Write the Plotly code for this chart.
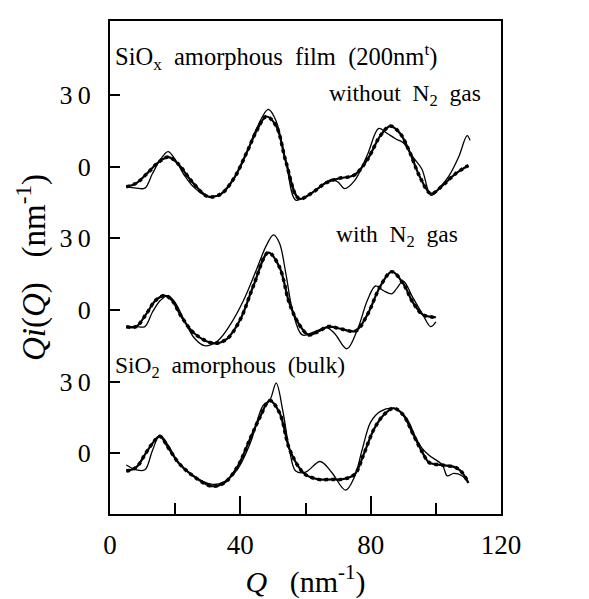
import plotly.graph_objects as go

# ---- data (raw values, each panel is offset vertically) ----
top_dot_q = [5, 8, 12, 15, 18, 21, 25, 30, 34, 38, 42, 45, 48, 51, 54, 58, 62, 66, 70, 75, 79, 83, 86, 89, 92, 95, 98.5, 102, 106, 110]
top_dot_v = [-8.4, -7, -2, 2, 4, 1, -6, -12.5, -11.5, -5, 6, 15, 21, 17, 2, -13.4, -11, -7, -5, -3.5, 3, 13, 17, 14, 6, -4, -11.3, -8, -3, 0.5]
top_sol_q = [5, 8, 10.7, 13, 15.5, 17.8, 20, 23, 26, 30, 34, 38, 42, 45, 48.6, 51, 54, 57, 60, 64, 68, 70, 72, 75, 79, 82.5, 85, 87.6, 90, 93, 95.7, 98.5, 101, 104, 107, 109.6, 110.5]
top_sol_v = [-8.4, -9, -9, -3, 3, 6.3, 3, -4, -9, -12.5, -11.5, -5, 6, 16, 24, 19, 2, -14, -12.5, -9, -5.4, -6.5, -9.2, -6, 5, 16, 14, 11.7, 10, 4, -1, -12, -9, -4, 4, 13, 11]

mid_dot_q = [5, 8, 11, 14, 16.8, 19, 22, 26, 32, 36, 40, 44, 48.6, 52, 55, 58, 61, 64, 67, 71, 75.4, 79, 83, 86.5, 90, 93, 96, 98.8, 100]
mid_dot_v = [-7.1, -7, -2, 4, 6, 4, -3, -10, -14, -12, -4, 10, 24, 18, 3, -6, -10.5, -9, -7, -8, -8.8, -2, 10, 16, 11, 3, -2, -3, -3]
mid_sol_q = [5, 8, 10.7, 13, 15.5, 17.8, 20, 23, 26, 29, 33, 37, 41, 45, 48, 50.2, 52, 54, 56, 59, 63, 66.7, 69, 72.7, 76, 79, 81.5, 84, 86.5, 88, 90, 93, 96, 98.4, 100]
mid_sol_v = [-7.1, -7, -7, -1, 4, 6, 3, -5, -12, -15, -13, -6, 4, 17, 27, 31.4, 28, 15, 0, -10.5, -9, -7.5, -10, -16.3, -8, 4, 10, 8, 6.7, 9, 12, 5, -2, -7, -5]

bot_dot_q = [5, 8, 11, 13, 15.3, 18, 21, 25, 31, 35, 39, 43, 46, 49, 52, 55, 58, 60, 64, 68, 71, 75, 78, 81, 84, 87, 90, 93, 96, 98, 102, 106, 108, 110]
bot_dot_v = [-7.5, -6, 0, 4, 7, 2, -4, -9, -13.8, -12.5, -6, 6, 15, 22, 17, 2, -6, -9, -11, -11, -11, -9, 0, 10, 16, 18.8, 16, 8, 0, -4, -5, -6, -8, -12.5]
bot_sol_q = [5, 8, 10.7, 13, 15.3, 18, 21, 25, 31, 35, 39, 43, 47, 49, 51, 53, 55, 57, 60, 64.5, 68, 72.3, 75, 77.5, 80, 83, 87, 89.5, 91.7, 94, 95.8, 98, 102, 103.5, 105.5, 108, 110]
bot_sol_v = [-5, -7, -7, 1, 7.5, 3, -4, -9, -13, -12, -7, 4, 20, 22, 29.3, 18, 2, -7.5, -8, -3.5, -8, -15.5, -10, 2, 13, 17.5, 18.8, 17, 13, 6, 2, -1, -5, -9.5, -8.5, -9.5, -12.5]

offsets = [120, 60, 0]
y_tick_vals = [0, 30, 60, 90, 120, 150]
y_tick_text = ["0", "3\u20090", "0", "3\u20090", "0", "3\u20090"]
x_tick_vals = [0, 40, 80, 120]
x_tick_text = ["0", "40", "80", "120"]

FONT = "Liberation Serif"

fig = go.Figure()
panels = [
    (top_dot_q, top_dot_v, top_sol_q, top_sol_v, offsets[0]),
    (mid_dot_q, mid_dot_v, mid_sol_q, mid_sol_v, offsets[1]),
    (bot_dot_q, bot_dot_v, bot_sol_q, bot_sol_v, offsets[2]),
]
for dq, dv, sq, sv, off in panels:
    fig.add_trace(go.Scatter(x=dq, y=[v + off for v in dv], mode="lines",
                             line=dict(color="black", width=3.5, shape="spline", smoothing=1.0, dash="dot"),
                             showlegend=False, hoverinfo="skip"))
    fig.add_trace(go.Scatter(x=dq, y=[v + off for v in dv], mode="lines",
                             line=dict(color="black", width=2.2, shape="spline", smoothing=1.0),
                             showlegend=False, hoverinfo="skip"))
    fig.add_trace(go.Scatter(x=sq, y=[v + off for v in sv], mode="lines",
                             line=dict(color="black", width=1.3, shape="spline", smoothing=1.0),
                             showlegend=False, hoverinfo="skip"))

fig.update_layout(
    width=589, height=599,
    margin=dict(l=102, r=96, t=13, b=93),
    paper_bgcolor="white", plot_bgcolor="white",
    font=dict(family=FONT, color="black"),
    xaxis=dict(range=[0, 120], tickvals=x_tick_vals, ticktext=x_tick_text,
               ticks="inside", ticklen=18, tickwidth=1.5, tickcolor="black",
               minor=dict(tickvals=[20, 60, 100], ticks="inside", ticklen=11, tickwidth=1.5, tickcolor="black"),
               showline=True, linecolor="black", linewidth=2, mirror=True,
               showgrid=False, zeroline=False, ticklabelstandoff=6,
               tickfont=dict(size=27, family=FONT),
               title=dict(text="<i>Q</i>\u00a0\u00a0\u00a0(nm<sup>-1</sup>)", font=dict(size=30, family=FONT), standoff=2)),
    yaxis=dict(range=[-25.5, 181], tickvals=y_tick_vals, ticktext=y_tick_text,
               ticks="inside", ticklen=10, tickwidth=1.5, tickcolor="black",
               showline=True, linecolor="black", linewidth=2, mirror=True,
               showgrid=False, zeroline=False, ticklabelstandoff=12,
               tickfont=dict(size=26, family=FONT),
               title=dict(text="<i>Qi</i>(<i>Q</i>)\u00a0\u00a0\u00a0(nm<sup>-1</sup>)", font=dict(size=33, family=FONT), standoff=4)),
)

ann_font = dict(size=23.5, family=FONT, color="black")
fig.add_annotation(x=1.0, y=166, xref="x", yref="y", xanchor="left", yanchor="middle", showarrow=False,
                   text="SiO<sub>x</sub>\u00a0\u00a0amorphous\u00a0\u00a0film\u00a0\u00a0(200nm<sup>t</sup>)",
                   font=dict(size=24.5, family=FONT, color="black"))
fig.add_annotation(x=114.5, y=150, xref="x", yref="y", xanchor="right", yanchor="middle", showarrow=False,
                   text="without\u00a0\u00a0N<sub>2</sub>\u00a0\u00a0gas", font=ann_font)
fig.add_annotation(x=107.5, y=91, xref="x", yref="y", xanchor="right", yanchor="middle", showarrow=False,
                   text="with\u00a0\u00a0N<sub>2</sub>\u00a0\u00a0gas", font=ann_font)
fig.add_annotation(x=1.0, y=36, xref="x", yref="y", xanchor="left", yanchor="middle", showarrow=False,
                   text="SiO<sub>2</sub>\u00a0\u00a0amorphous\u00a0\u00a0(bulk)", font=ann_font)

fig.write_html("out.html")
